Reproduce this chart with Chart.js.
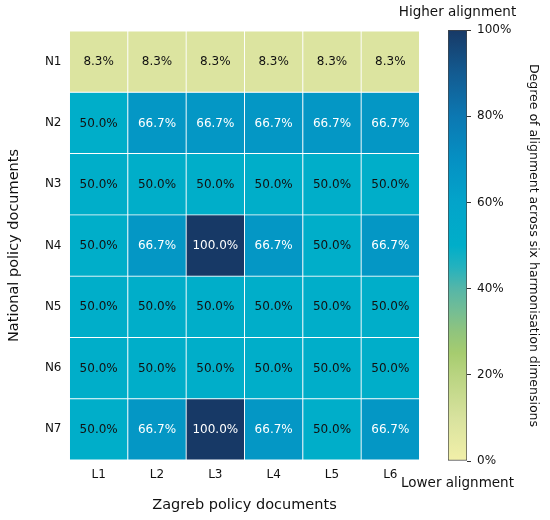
<!DOCTYPE html>
<html lang="en">
<head>
<meta charset="UTF-8">
<title>Zagreb / national policy alignment heatmap</title>
<script src="https://cdn.jsdelivr.net/npm/chart.js"></script>
<style>
  body { margin: 0; background: #fff; }
  #wrap { position: relative; width: 550px; height: 520px; }
  #heatmap { position: absolute; left: 0; top: 0; }
  #colorbar { position: absolute; left: 365px; top: 0; pointer-events: none; }
</style>
</head>
<body>
<div id="wrap">
  <canvas id="heatmap" width="550" height="520"></canvas>
  <canvas id="colorbar" width="185" height="520"></canvas>
</div>
<script>
  // data (percent alignment)
  const colLabels = ['L1', 'L2', 'L3', 'L4', 'L5', 'L6'];
  const rowLabels = ['N1', 'N2', 'N3', 'N4', 'N5', 'N6', 'N7'];
  const n1 = [8.3, 8.3, 8.3, 8.3, 8.3, 8.3];
  const n2 = [50.0, 66.7, 66.7, 66.7, 66.7, 66.7];
  const n3 = [50.0, 50.0, 50.0, 50.0, 50.0, 50.0];
  const n4 = [50.0, 66.7, 100.0, 66.7, 50.0, 66.7];
  const n5 = [50.0, 50.0, 50.0, 50.0, 50.0, 50.0];
  const n6 = [50.0, 50.0, 50.0, 50.0, 50.0, 50.0];
  const n7 = [50.0, 66.7, 100.0, 66.7, 50.0, 66.7];
  const rows = [n1, n2, n3, n4, n5, n6, n7];
  const cbTicks = [0, 20, 40, 60, 80, 100];

  Chart.defaults.font.family = '"DejaVu Sans", sans-serif';
  Chart.defaults.color = '#111';

  // yellow -> green -> cyan -> navy, as in the colorbar
  const cmapStops = [
    [0.00, '#f2f0a9'], [0.10, '#d8e29e'], [0.20, '#b9d481'], [0.25, '#a6cc6f'],
    [0.30, '#90c47d'], [0.35, '#73bd95'], [0.40, '#55b6a8'], [0.45, '#24b2be'],
    [0.50, '#00aec9'], [0.60, '#03a4ca'], [0.70, '#0590c3'], [0.80, '#0c78b2'],
    [0.90, '#135b91'], [1.00, '#173966']
  ];

  function hexRgb(h) {
    return [parseInt(h.slice(1, 3), 16), parseInt(h.slice(3, 5), 16), parseInt(h.slice(5, 7), 16)];
  }

  function cmap(t) {
    t = Math.max(0, Math.min(1, t));
    for (let i = 1; i < cmapStops.length; i++) {
      const [t1, c1] = cmapStops[i];
      if (t <= t1) {
        const [t0, c0] = cmapStops[i - 1];
        const f = (t - t0) / (t1 - t0);
        const a = hexRgb(c0), b = hexRgb(c1);
        const c = a.map((v, k) => Math.round(v + (b[k] - v) * f));
        return `rgb(${c[0]},${c[1]},${c[2]})`;
      }
    }
    return cmapStops[cmapStops.length - 1][1];
  }

  const cellLabels = {
    id: 'cellLabels',
    afterDatasetsDraw(chart) {
      const ctx = chart.ctx;
      ctx.save();
      ctx.font = '12px "DejaVu Sans"';
      ctx.textAlign = 'center';
      ctx.textBaseline = 'middle';
      chart.data.datasets.forEach((ds, i) => {
        chart.getDatasetMeta(i).data.forEach((bar, j) => {
          const v = ds.values[j];
          ctx.fillStyle = v > 60 ? '#fff' : '#111';
          ctx.fillText(v.toFixed(1) + '%', bar.x, (bar.y + bar.base) / 2 + 0.5);
        });
      });
      ctx.restore();
    }
  };

  // each row is a stack layer of unit height; colour comes from the value
  const datasets = rows.map((vals, r) => ({
    label: rowLabels[r],
    values: vals,
    data: vals.map(() => 1),
    backgroundColor: vals.map(v => cmap(v / 100)),
    borderColor: '#fff',
    borderWidth: 0.8,
    borderSkipped: false,
    barPercentage: 1,
    categoryPercentage: 1
  }));

  new Chart(document.getElementById('heatmap'), {
    type: 'bar',
    data: { labels: colLabels, datasets },
    plugins: [cellLabels],
    options: {
      responsive: false,
      animation: false,
      layout: { padding: { top: 31, right: 130.5, bottom: 0, left: 0 } },
      plugins: { legend: { display: false }, tooltip: { enabled: false } },
      scales: {
        x: {
          stacked: true,
          offset: true,
          grid: { display: false, drawTicks: false },
          border: { display: false },
          ticks: { padding: 8, font: { size: 12 } },
          title: { display: true, text: 'Zagreb policy documents', font: { size: 14.5 }, padding: { top: 0, bottom: 6 } },
          afterFit: s => { s.height = 60; }
        },
        y: { stacked: true, reverse: true, min: 0, max: 7, display: false },
        rows: {
          type: 'category',
          position: 'left',
          labels: rowLabels,
          offset: true,
          grid: { display: false, drawTicks: false },
          border: { display: false },
          ticks: { padding: 8, font: { size: 12 } },
          title: { display: true, text: 'National policy documents', font: { size: 14.5 }, padding: { top: 6, bottom: 0 } },
          afterFit: s => { s.width = 69.5; }
        }
      }
    }
  });

  function barGradient(context) {
    const area = context.chart.chartArea;
    if (!area) return cmap(0.5);
    const g = context.chart.ctx.createLinearGradient(0, area.bottom, 0, area.top);
    cmapStops.forEach(([t, c]) => g.addColorStop(t, c));
    return g;
  }

  new Chart(document.getElementById('colorbar'), {
    type: 'bar',
    data: {
      labels: [''],
      datasets: [{
        data: [100],
        backgroundColor: barGradient,
        borderColor: '#444',
        borderWidth: 1,
        borderSkipped: false,
        barPercentage: 1,
        categoryPercentage: 1
      }]
    },
    options: {
      responsive: false,
      animation: false,
      plugins: {
        legend: { display: false },
        tooltip: { enabled: false },
        title: {
          display: true, text: 'Higher alignment', color: '#111',
          font: { size: 13.5, weight: 'normal' }, padding: { top: 4.4, bottom: 9.4 }
        },
        subtitle: {
          display: true, position: 'bottom', text: 'Lower alignment', color: '#111',
          font: { size: 13.5 }, padding: { top: 13.9, bottom: 28.9 }
        }
      },
      scales: {
        x: { display: false },
        y: {
          position: 'right',
          min: 0,
          max: 100,
          afterBuildTicks: s => { s.ticks = cbTicks.map(v => ({ value: v })); },
          ticks: { callback: v => v + '%', padding: 6, font: { size: 12 } },
          grid: { drawOnChartArea: false, drawTicks: true, tickLength: 4, color: '#333' },
          border: { display: false },
          title: {
            display: true, text: 'Degree of alignment across six harmonisation dimensions',
            font: { size: 12.5 }, padding: { top: 9.5, bottom: 0 }
          },
          afterFit: s => { s.width = 83; }
        },
        pad: {
          type: 'linear',
          position: 'left',
          grid: { display: false },
          border: { display: false },
          ticks: { display: false },
          afterFit: s => { s.width = 83; }
        }
      }
    }
  });
</script>
</body>
</html>
